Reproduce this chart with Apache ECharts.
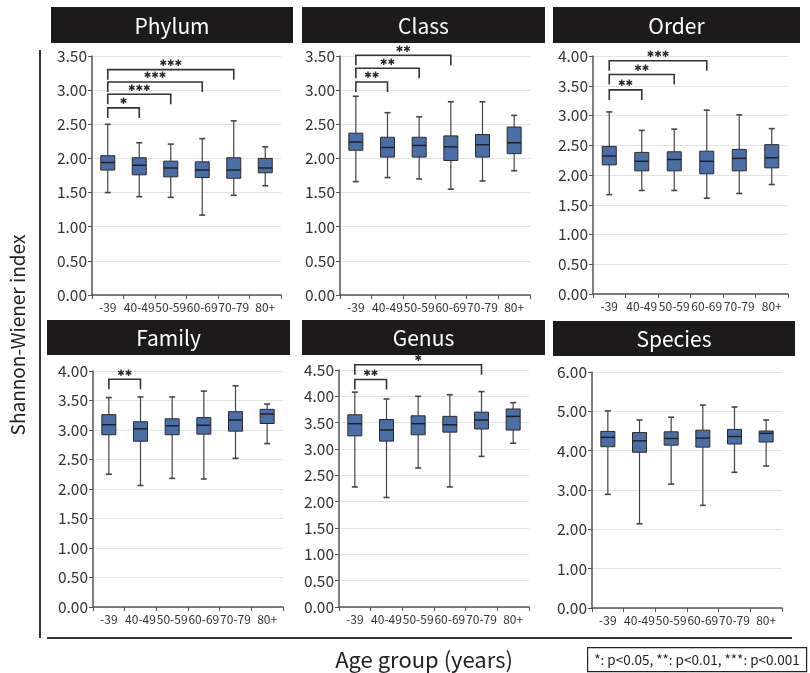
<!DOCTYPE html>
<html>
<head>
<meta charset="utf-8">
<script src="https://cdn.jsdelivr.net/npm/echarts@6/dist/echarts.min.js"></script>
<style>
  html, body { margin: 0; padding: 0; background: #fff; }
  #chart { width: 810px; height: 673px; }
</style>
</head>
<body>
<div id="chart"></div>
<script>
// Age groups shared by every panel
const ageGroups = ['-39', '40-49', '50-59', '60-69', '70-79', '80+'];

// Shannon-Wiener index per age group: [min, Q1, median, Q3, max]
const phylumBoxes = [
  [1.50, 1.83, 1.94, 2.04, 2.50],
  [1.44, 1.76, 1.90, 2.01, 2.23],
  [1.43, 1.73, 1.86, 1.96, 2.21],
  [1.17, 1.72, 1.83, 1.95, 2.29],
  [1.46, 1.71, 1.83, 2.01, 2.55],
  [1.60, 1.79, 1.86, 2.00, 2.17]
];
const classBoxes = [
  [1.66, 2.12, 2.24, 2.37, 2.91],
  [1.72, 2.02, 2.16, 2.31, 2.67],
  [1.70, 2.02, 2.19, 2.31, 2.61],
  [1.55, 1.97, 2.17, 2.33, 2.83],
  [1.67, 2.02, 2.20, 2.35, 2.83],
  [1.82, 2.07, 2.23, 2.46, 2.63]
];
const orderBoxes = [
  [1.67, 2.17, 2.32, 2.48, 3.06],
  [1.74, 2.07, 2.23, 2.38, 2.75],
  [1.74, 2.07, 2.26, 2.39, 2.77],
  [1.61, 2.02, 2.23, 2.40, 3.09],
  [1.69, 2.07, 2.28, 2.43, 3.01],
  [1.84, 2.12, 2.29, 2.51, 2.78]
];
const familyBoxes = [
  [2.25, 2.92, 3.09, 3.26, 3.55],
  [2.06, 2.81, 3.02, 3.14, 3.56],
  [2.18, 2.92, 3.07, 3.19, 3.56],
  [2.17, 2.93, 3.08, 3.21, 3.66],
  [2.52, 2.98, 3.17, 3.31, 3.75],
  [2.77, 3.11, 3.27, 3.35, 3.44]
];
const genusBoxes = [
  [2.28, 3.25, 3.48, 3.65, 4.08],
  [2.08, 3.15, 3.36, 3.56, 3.95],
  [2.64, 3.27, 3.48, 3.63, 4.00],
  [2.28, 3.32, 3.46, 3.62, 4.03],
  [2.86, 3.38, 3.55, 3.70, 4.09],
  [3.11, 3.36, 3.62, 3.76, 3.88]
];
const speciesBoxes = [
  [2.89, 4.10, 4.34, 4.49, 5.01],
  [2.14, 3.96, 4.25, 4.46, 4.78],
  [3.15, 4.14, 4.31, 4.48, 4.85],
  [2.61, 4.09, 4.32, 4.52, 5.16],
  [3.45, 4.17, 4.36, 4.54, 5.11],
  [3.61, 4.22, 4.44, 4.50, 4.78]
];

// Significance brackets: [from group, to group, bracket height, stars]
const phylumSig = [[0, 1, 2.74, '*'], [0, 2, 2.94, '***'], [0, 3, 3.12, '***'], [0, 4, 3.30, '***']];
const classSig = [[0, 1, 3.12, '**'], [0, 2, 3.32, '**'], [0, 3, 3.51, '**']];
const orderSig = [[0, 1, 3.43, '**'], [0, 2, 3.69, '**'], [0, 3, 3.92, '***']];
const familySig = [[0, 1, 3.86, '**']];
const genusSig = [[0, 1, 4.32, '**'], [0, 4, 4.60, '*']];
const speciesSig = [];

// Axis ranges and tick steps
const panelTitles = ['Phylum', 'Class', 'Order', 'Family', 'Genus', 'Species'];
const axisMax = [3.5, 3.5, 4.0, 4.0, 4.5, 6.0];
const axisStep = [0.5, 0.5, 0.5, 0.5, 0.5, 1.0];

const panelBoxes = [phylumBoxes, classBoxes, orderBoxes, familyBoxes, genusBoxes, speciesBoxes];
const panelSig = [phylumSig, classSig, orderSig, familySig, genusSig, speciesSig];

// Plot rectangles of the six panels
const gridRects = [
  { left: 92, top: 56, width: 189, height: 239 },
  { left: 340, top: 56, width: 190, height: 239 },
  { left: 593, top: 56, width: 195, height: 238 },
  { left: 93, top: 371, width: 190, height: 236 },
  { left: 339, top: 370, width: 190, height: 237 },
  { left: 592, top: 372, width: 190, height: 236 }
];
// Black heading bars above the panels
const headerRects = [
  { x: 51, y: 7, w: 242, h: 36 },
  { x: 302, y: 7, w: 243, h: 36 },
  { x: 553, y: 7, w: 247, h: 36 },
  { x: 47, y: 320, w: 243, h: 35 },
  { x: 302, y: 320, w: 243, h: 35 },
  { x: 553, y: 321, w: 242, h: 35 }
];

const FONT = '"Noto Sans CJK JP", "Noto Sans", sans-serif';
const BOX_FILL = '#4a6ea6';

function renderBox(params, api) {
  const i = api.value(0);
  const pMin = api.coord([i, api.value(1)]);
  const pQ1 = api.coord([i, api.value(2)]);
  const pMed = api.coord([i, api.value(3)]);
  const pQ3 = api.coord([i, api.value(4)]);
  const pMax = api.coord([i, api.value(5)]);
  const x = pMed[0];
  const bw = 14;
  const cap = 3;
  const whisker = { stroke: '#444', lineWidth: 1.2 };
  return {
    type: 'group',
    children: [
      { type: 'line', shape: { x1: x, y1: pMax[1], x2: x, y2: pQ3[1] }, style: whisker },
      { type: 'line', shape: { x1: x, y1: pQ1[1], x2: x, y2: pMin[1] }, style: whisker },
      { type: 'line', shape: { x1: x - cap, y1: pMax[1], x2: x + cap, y2: pMax[1] }, style: { stroke: '#444', lineWidth: 1.6 } },
      { type: 'line', shape: { x1: x - cap, y1: pMin[1], x2: x + cap, y2: pMin[1] }, style: { stroke: '#444', lineWidth: 1.6 } },
      { type: 'rect', shape: { x: x - bw / 2, y: pQ3[1], width: bw, height: pQ1[1] - pQ3[1] },
        style: { fill: BOX_FILL, stroke: '#2a2a2a', lineWidth: 1 } },
      { type: 'line', shape: { x1: x - bw / 2, y1: pMed[1], x2: x + bw / 2, y2: pMed[1] },
        style: { stroke: '#1e1e1e', lineWidth: 1.4 } }
    ]
  };
}

// Stars drawn with a heavy, vertically centred asterisk glyph
function starText(n) {
  return '\u2731'.repeat(n.length);
}

function makeBracketRenderer(sig) {
  return function (params, api) {
    const a = api.coord([api.value(0), api.value(2)]);
    const b = api.coord([api.value(1), api.value(2)]);
    const drop = 10;
    return {
      type: 'group',
      children: [
        { type: 'polyline',
          shape: { points: [[a[0], a[1] + drop], [a[0], a[1]], [b[0], b[1]], [b[0], b[1] + drop]] },
          style: { stroke: '#333', lineWidth: 1.6, fill: null } },
        { type: 'text',
          style: { x: (a[0] + b[0]) / 2, y: a[1] - 6, text: starText(sig[params.dataIndex][3]),
                   fill: '#2a2a2a', font: '9px "DejaVu Sans", sans-serif',
                   align: 'center', verticalAlign: 'middle' } }
      ]
    };
  };
}

const grid = [], xAxis = [], yAxis = [], series = [], graphic = [];

panelTitles.forEach((title, k) => {
  grid.push(Object.assign({ containLabel: false, outerBoundsMode: 'none' }, gridRects[k]));
  xAxis.push({
    type: 'category', gridIndex: k, data: ageGroups, boundaryGap: true,
    axisLine: { lineStyle: { color: '#555', width: 1.5 } },
    axisTick: { show: true, alignWithLabel: false, length: 4, lineStyle: { color: '#555' } },
    axisLabel: { interval: 0, hideOverlap: false, color: '#333', fontSize: 12, fontFamily: FONT, margin: 6 },
    splitLine: { show: false }
  });
  yAxis.push({
    type: 'value', gridIndex: k, min: 0, max: axisMax[k], interval: axisStep[k],
    axisLine: { show: true, lineStyle: { color: '#555', width: 1.5 } },
    axisTick: { show: true, length: 4, lineStyle: { color: '#555' } },
    axisLabel: { color: '#333', fontSize: 15.5, fontFamily: FONT, margin: 5,
                 formatter: v => v.toFixed(2) },
    splitLine: { show: true, lineStyle: { color: '#e3e3e3', width: 1 } }
  });
  series.push({
    type: 'custom', xAxisIndex: k, yAxisIndex: k,
    renderItem: renderBox,
    encode: { x: 0, y: [1, 2, 3, 4, 5] },
    data: panelBoxes[k].map((b, i) => [i].concat(b)),
    z: 3
  });
  const sig = panelSig[k];
  if (sig.length) {
    series.push({
      type: 'custom', xAxisIndex: k, yAxisIndex: k, clip: false,
      renderItem: makeBracketRenderer(sig),
      encode: { x: [0, 1], y: 2 },
      data: sig.map(s => [s[0], s[1], s[2]]),
      z: 4
    });
  }
  const h = headerRects[k];
  graphic.push({ type: 'rect', left: h.x, top: h.y, z: -1, shape: { width: h.w, height: h.h },
                 style: { fill: '#1c1a1a' } });
  graphic.push({ type: 'text', x: h.x + h.w / 2, y: h.y + h.h / 2 + 1,
                 style: { text: title, fill: '#fff', font: '21px ' + FONT,
                          align: 'center', verticalAlign: 'middle' } });
});

// Frame lines, shared axis titles and the significance key
graphic.push({ type: 'line', shape: { x1: 40, y1: 50, x2: 40, y2: 638 },
               style: { stroke: '#333', lineWidth: 2 } });
graphic.push({ type: 'line', shape: { x1: 47, y1: 638, x2: 792, y2: 638 },
               style: { stroke: '#333', lineWidth: 2 } });
graphic.push({ type: 'text', x: 18, y: 335, rotation: Math.PI / 2,
               style: { text: 'Shannon-Wiener index', fill: '#222', font: '19px ' + FONT,
                        align: 'center', verticalAlign: 'middle' } });
graphic.push({ type: 'text', x: 424, y: 660,
               style: { text: 'Age group (years)', fill: '#222', font: '22px ' + FONT,
                        align: 'center', verticalAlign: 'middle' } });
graphic.push({ type: 'rect', left: 587, top: 647, shape: { width: 219, height: 24 },
               style: { fill: '#fff', stroke: '#222', lineWidth: 1.2 } });
graphic.push({ type: 'text', x: 697, y: 659.5,
               style: { text: '*: p<0.05, **: p<0.01, ***: p<0.001', fill: '#222',
                        font: '13.5px ' + FONT, align: 'center', verticalAlign: 'middle' } });

const chart = echarts.init(document.getElementById('chart'), null, { renderer: 'canvas' });
chart.setOption({
  backgroundColor: '#fff',
  animation: false,
  grid, xAxis, yAxis, series, graphic
});
</script>
</body>
</html>
